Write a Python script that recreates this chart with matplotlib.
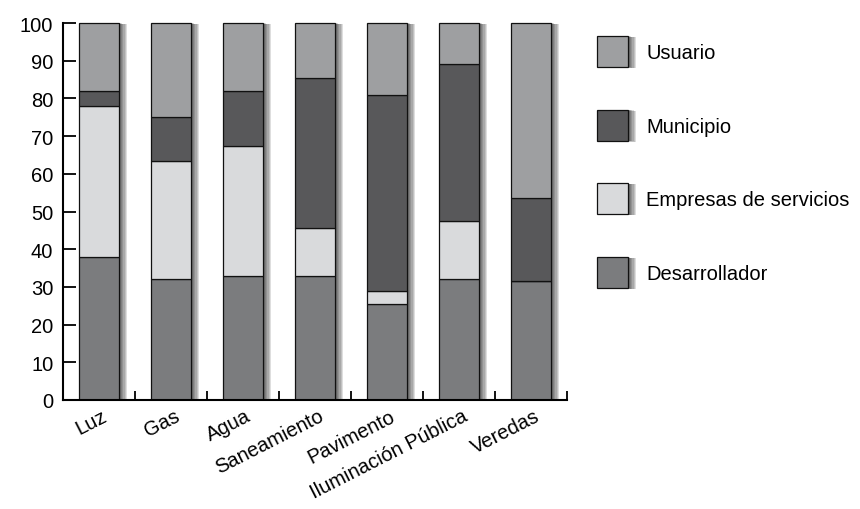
import matplotlib
matplotlib.use("Agg")
import matplotlib.pyplot as plt
import matplotlib.patheffects as pe
import matplotlib.transforms as mtransforms
from matplotlib.patches import Patch
from matplotlib.ticker import FixedLocator
import numpy as np

categories = ["Luz", "Gas", "Agua", "Saneamiento", "Pavimento", "Iluminación Pública", "Veredas"]
desarrollador = [38, 32, 33, 33, 25.5, 32, 31.5]
empresas = [40, 31.5, 34.5, 12.5, 3.5, 15.5, 0]
municipio = [4, 11.5, 14.5, 40, 52, 41.5, 22]
usuario = [18, 25, 18, 14.5, 19, 11, 46.5]

series_names = ["Desarrollador", "Empresas de servicios", "Municipio", "Usuario"]
series_vals = [desarrollador, empresas, municipio, usuario]
colors = ["#7b7c7e", "#d9dadc", "#58585a", "#9e9fa1"]

plt.rcParams["font.family"] = ["Liberation Sans", "DejaVu Sans"]
FS = 14.5

fig = plt.figure(figsize=(8.6, 5.1), dpi=100)
W, H = 860, 510
x0, x1, yb, yt = 63, 567, 401, 24
ytop_val = 101.5
px_per = (yb - yt) / 100.0
ax = fig.add_axes([x0 / W, 1 - yb / H, (x1 - x0) / W, (yb - yt + 1.5 * px_per) / H])

x = np.arange(len(categories))
width = 0.555

shadow_fx = [pe.SimplePatchShadow(offset=(0.8 * k, -0.1 * k), shadow_rgbFace="k", alpha=0.13)
             for k in range(1, 8)]

totals = np.sum(np.array(series_vals), axis=0)
ax.bar(x, totals, width, color="none", edgecolor="none", path_effects=shadow_fx, zorder=1)

bottom = np.zeros(len(categories))
for name, vals, c in zip(series_names, series_vals, colors):
    vals = np.array(vals, dtype=float)
    ax.bar(x, vals, width, bottom=bottom, color=c, edgecolor="#111111", linewidth=0.9,
           label=name, zorder=2)
    bottom += vals

ax.set_xlim(-0.5, len(categories) - 0.5)
ax.set_ylim(0, ytop_val)
ax.spines["top"].set_visible(False)
ax.spines["right"].set_visible(False)
ax.spines["left"].set_bounds(0, 100)
for s in ("left", "bottom"):
    ax.spines[s].set_linewidth(1.5)
    ax.spines[s].set_zorder(3)

ax.set_yticks(np.arange(0, 101, 10))
ax.tick_params(axis="y", direction="in", length=9.5, width=1.3, labelsize=FS, pad=7)
ax.set_xticks(x)
ax.xaxis.set_minor_locator(FixedLocator(np.arange(0.5, len(categories), 1.0)))
ax.tick_params(axis="x", which="major", length=0, labelsize=FS, pad=4)
ax.tick_params(axis="x", which="minor", direction="in", length=6.5, width=1.3)
ax.set_xticklabels(categories, rotation=27, rotation_mode="anchor", ha="right", va="center")
off = mtransforms.ScaledTranslation(7 / 100, -9 / 100, fig.dpi_scale_trans)
for lab in ax.get_xticklabels():
    lab.set_transform(lab.get_transform() + off)

leg_fx = shadow_fx + [pe.Normal()]
handles = [Patch(facecolor=c, edgecolor="#111111", linewidth=0.9, path_effects=leg_fx)
           for c in colors][::-1]
labels = series_names[::-1]
fs_px = FS * 100 / 72
hh = (31 / fs_px - 0.245) / 0.65
fig.legend(handles, labels, loc="upper left", bbox_to_anchor=(597 / W, 1 - 37 / H),
           frameon=False, fontsize=FS, borderpad=0, borderaxespad=0,
           handlelength=31 / fs_px, handleheight=hh,
           labelspacing=(73.7 - 31) / fs_px, handletextpad=(647 - 629) / fs_px)

fig.savefig("out.png", dpi=100)
